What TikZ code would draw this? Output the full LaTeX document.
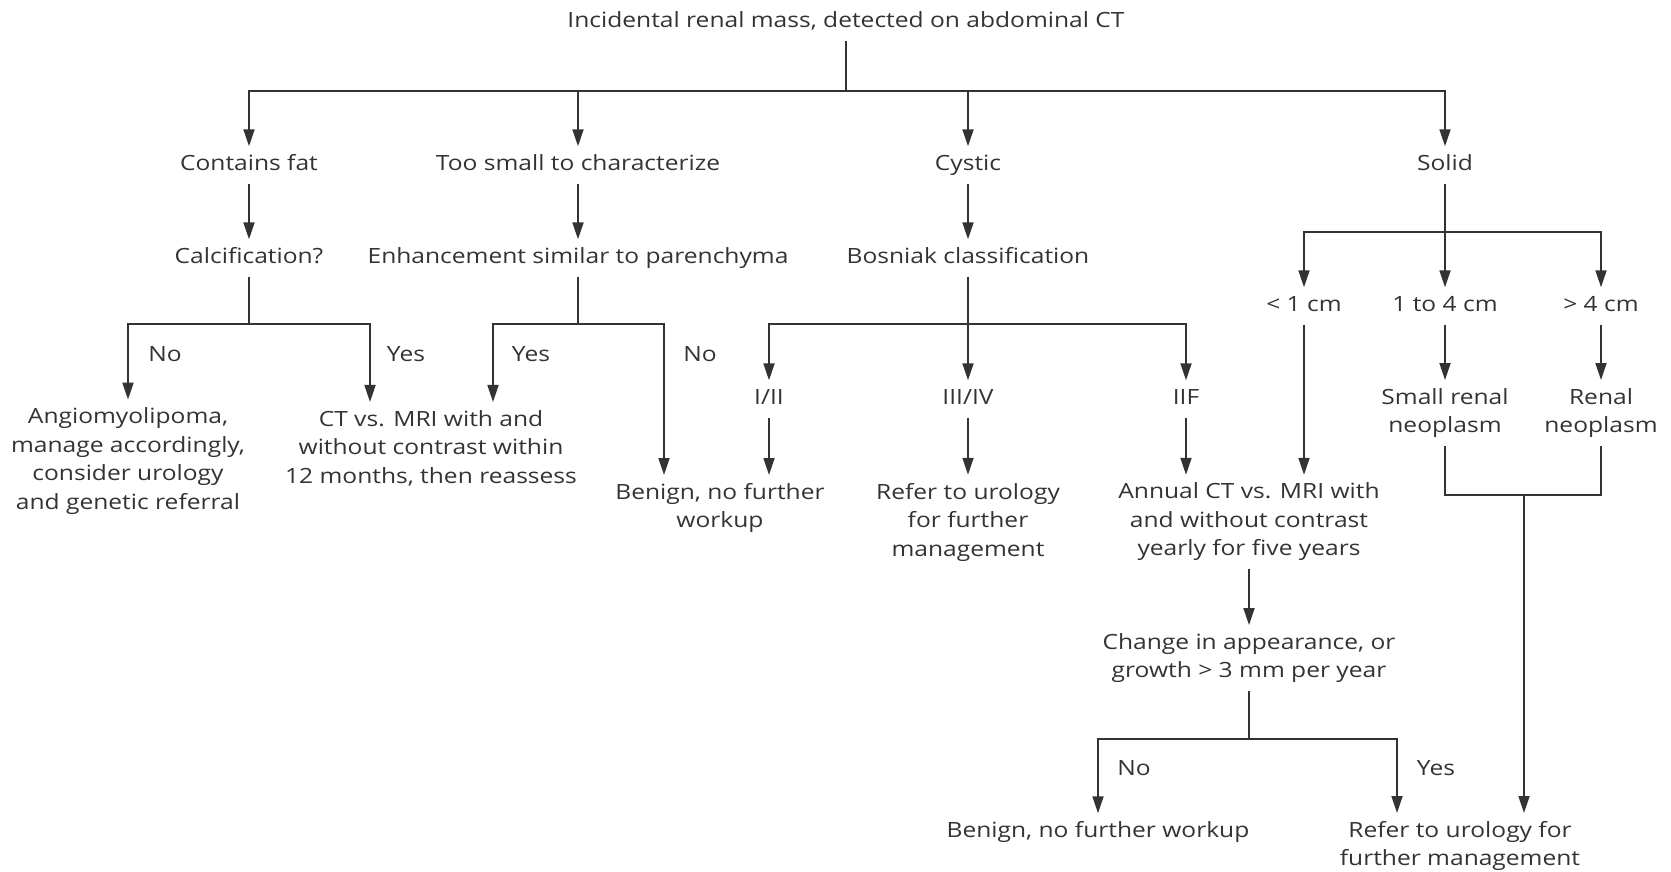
\documentclass[tikz,border=0pt]{standalone}
\usepackage{fontspec}
\setmainfont[FakeStretch=1.17]{Open Sans}
\usepackage{xcolor}
\usepackage{tikz}
\usetikzlibrary{positioning, arrows.meta, calc}
\definecolor{ink}{HTML}{333333}

\begin{document}
\begin{tikzpicture}[
					x=1pt, y=-1pt,
					font=\fontsize{21}{28.5}\selectfont,
					>={Triangle[length=17pt, width=11pt]},
					% Define styles for the boxes
					txt/.style={
						align=center,
						inner sep=8pt,
						text=ink
					},
					oneline/.style={
						txt,
						text height=16pt,
						text depth=5pt
					},
					answer/.style={
						text=ink,
						inner sep=0pt
					},
					link/.style={
						draw=ink,
						line width=1.8pt
					},
					arr/.style={
						link,
						->
					}
					]
					\useasboundingbox (0,0) rectangle (1671,871);
					
					% --- 1. START ---
					\node[oneline] (top) at (846,22) {Incidental renal mass, detected on abdominal CT};
					\coordinate (b0) at (846,91);
					
					% --- 2. FIRST SPLIT ---
					\node[oneline] (fat) at (249,165) {Contains fat};
					\node[oneline] (small) at (578,165) {Too small to characterize};
					\node[oneline] (cystic) at (968,165) {Cystic};
					\node[oneline] (solid) at (1445,165) {Solid};
					
					\draw[arr] (top.south) -- (b0) -| (fat.north);
					\draw[arr] (b0) -| (small.north);
					\draw[arr] (b0) -| (cystic.north);
					\draw[arr] (b0) -| (solid.north);
					
					% --- 3. SECOND ROW ---
					\node[oneline] (calc) at (249,258) {Calcification?};
					\node[oneline] (enh) at (578,258) {Enhancement similar to parenchyma};
					\node[oneline] (bos) at (968,258) {Bosniak classification};
					
					\draw[arr] (fat) -- (calc);
					\draw[arr] (small) -- (enh);
					\draw[arr] (cystic) -- (bos);
					
					% --- 4. CONTAINS FAT ---
					\node[txt] (aml) at (128,461) {Angiomyolipoma,\\ manage accordingly,\\ consider urology\\ and genetic referral};
					\node[txt] (ctmri) at (431,448) {CT vs. MRI with and\\ without contrast within\\ 12 months, then reassess};
					\coordinate (b1) at (249,324);
					\coordinate (b1r) at (370,324);
					\draw[arr] (calc.south) -- (b1) -| (aml.north);
					\draw[arr] (b1) -- (b1r) -- (b1r |- ctmri.north);
					\node[answer] (calcno) at (165,354) {No};
					\node[answer] (calcyes) at (406,354) {Yes};
					
					% --- 5. TOO SMALL ---
					\node[txt] (ben1) at (720,508) {Benign, no further\\ workup};
					\coordinate (b2) at (578,324);
					\coordinate (b2l) at (493,324);
					\coordinate (b2r) at (664,324);
					\draw[arr] (enh.south) -- (b2) -- (b2l) -- (b2l |- ctmri.north);
					\draw[arr] (b2) -- (b2r) -- (b2r |- ben1.north);
					\node[answer] (enhyes) at (531,354) {Yes};
					\node[answer] (enhno) at (700,354) {No};
					
					% --- 6. CYSTIC ---
					\node[oneline] (i2) at (769,399) {I/II};
					\node[oneline] (i34) at (968,399) {III/IV};
					\node[oneline] (iif) at (1186,399) {IIF};
					\coordinate (b3) at (968,324);
					\draw[arr] (bos) -- (i34);
					\draw[arr] (b3) -| (i2.north);
					\draw[arr] (b3) -| (iif.north);
					
					\node[txt] (ref1) at (968,522) {Refer to urology\\ for further\\ management};
					\node[txt] (annual) at (1249,522) {Annual CT vs. MRI with\\ and without contrast\\ yearly for five years};
					\draw[arr] (i2.south) -- (i2.south |- ben1.north);
					\draw[arr] (i34) -- (ref1);
					\draw[arr] (iif.south) -- (iif.south |- annual.north);
					
					% --- 7. SOLID ---
					\node[oneline] (lt1) at (1304,306) {< 1 cm};
					\node[oneline] (mid) at (1445,306) {1 to 4 cm};
					\node[oneline] (gt4) at (1601,306) {> 4 cm};
					\coordinate (b4) at (1445,232);
					\draw[arr] (solid.south) -- (b4) -- (mid.north);
					\draw[arr] (b4) -| (lt1.north);
					\draw[arr] (b4) -| (gt4.north);
					\draw[arr] (lt1.south) -- (lt1.south |- annual.north);
					
					\node[txt] (srn) at (1445,413) {Small renal\\ neoplasm};
					\node[txt] (rn) at (1601,413) {Renal\\ neoplasm};
					\draw[arr] (mid) -- (srn);
					\draw[arr] (gt4) -- (rn);
					
					% Merge into referral
					\coordinate (b5) at (1524,495);
					\draw[link] (srn.south) |- (b5);
					\draw[link] (rn.south) |- (b5);
					
					% --- 8. FOLLOW-UP ---
					\node[txt] (change) at (1249,658) {Change in appearance, or\\ growth > 3 mm per year};
					\draw[arr] (annual) -- (change);
					
					\node[oneline] (ben2) at (1098,832) {Benign, no further workup};
					\node[txt] (ref2) at (1460,846) {Refer to urology for\\ further management};
					\coordinate (b6) at (1249,739);
					\coordinate (b6r) at (1397,739);
					\draw[arr] (change.south) -- (b6) -| (ben2.north);
					\draw[arr] (b6) -- (b6r) -- (b6r |- ref2.north);
					\draw[arr] (b5) -- (b5 |- ref2.north);
					\node[answer] (chno) at (1134,768) {No};
					\node[answer] (chyes) at (1436,768) {Yes};
					
				\end{tikzpicture}
\end{document}
